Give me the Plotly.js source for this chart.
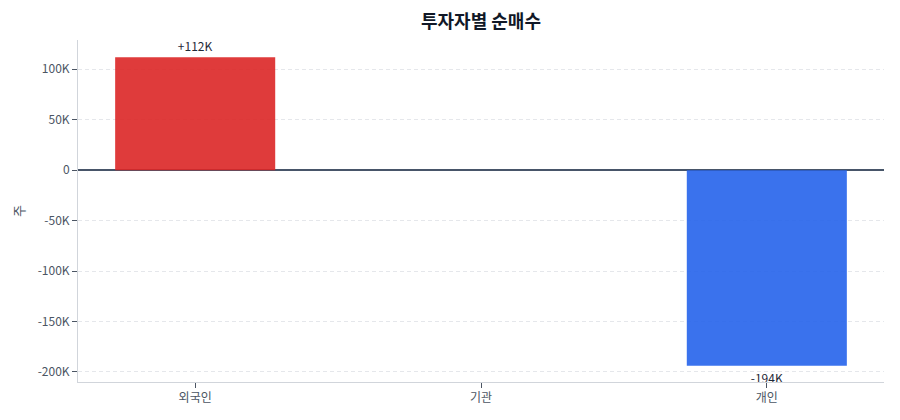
<!DOCTYPE html>
<html>
<head>
<meta charset="utf-8">
<script src="https://cdn.plot.ly/plotly-3.0.1.min.js"></script>
<style>
  html, body { margin: 0; padding: 0; background: #fff; }
  #chart { width: 900px; height: 420px; }
</style>
</head>
<body>
<div id="chart"></div>
<script>
const investors = ['외국인', '기관', '개인'];
const netBuy = [112000, 0, -194000];
const barColors = ['#dc2626', '#6b7280', '#2563eb'];
const tickVals = [-200000, -150000, -100000, -50000, 0, 50000, 100000];
const tickText = ['-200K', '-150K', '-100K', '-50K', '0', '50K', '100K'];

const fmt = v => {
    if (v === 0) return '';
    const k = Math.round(v / 1000);
    return (v > 0 ? '+' : '') + k + 'K';
};

const trace = {
    x: investors,
    y: netBuy,
    type: 'bar',
    width: 0.56,
    marker: { color: barColors, opacity: 0.9, line: { width: 0 } },
    text: netBuy.map(fmt),
    textposition: 'outside',
    cliponaxis: false,
    textfont: { size: 12, color: '#1f2937' },
    hoverinfo: 'skip'
};

const layout = {
    width: 900,
    height: 420,
    margin: { t: 40, b: 38, l: 78, r: 16 },
    paper_bgcolor: '#fff',
    plot_bgcolor: '#fff',
    font: { family: '"Noto Sans CJK KR", "Noto Sans", sans-serif', size: 12, color: '#4b5563' },
    title: {
        text: '<b>투자자별 순매수</b>',
        xref: 'paper',
        x: 0.5,
        yref: 'container',
        y: 0.948,
        yanchor: 'middle',
        font: { size: 18, color: '#111827' }
    },
    xaxis: {
        range: [-0.41, 2.41],
        showline: true,
        linecolor: '#d1d5db',
        ticks: 'outside',
        ticklen: 5,
        tickcolor: '#4b5563',
        showgrid: false,
        tickfont: { size: 12, color: '#4b5563' }
    },
    yaxis: {
        title: { text: '주', font: { size: 13, color: '#4b5563' }, standoff: 10 },
        range: [-210000, 129000],
        tickvals: tickVals,
        ticktext: tickText,
        showline: true,
        linecolor: '#d1d5db',
        ticks: 'outside',
        ticklen: 5,
        tickcolor: '#4b5563',
        gridcolor: '#e5e7eb',
        griddash: '4px,3px',
        zeroline: true,
        zerolinecolor: '#475569',
        zerolinewidth: 1.5
    },
    showlegend: false
};

Plotly.newPlot('chart', [trace], layout, { displayModeBar: false, staticPlot: true });
</script>
</body>
</html>
